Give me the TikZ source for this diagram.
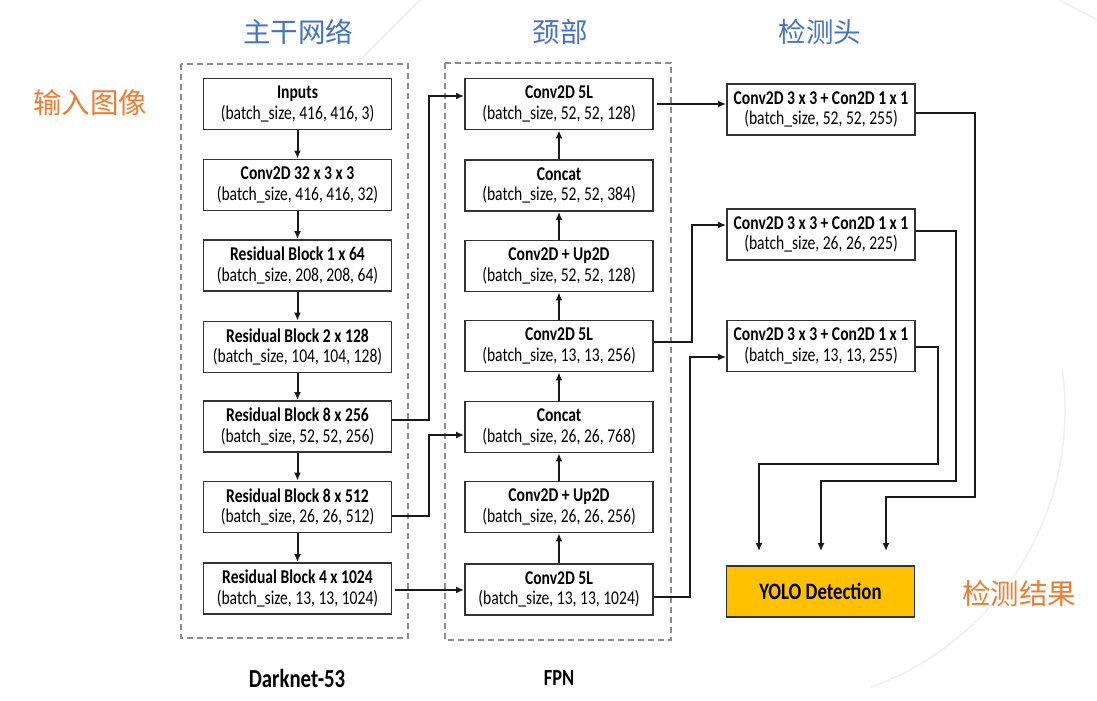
\documentclass[tikz,border=0pt]{standalone}
\usepackage{fontspec}
\setmainfont{Carlito}[FakeStretch=0.8]
\newfontfamily\cjk{Noto Sans CJK SC}
\usetikzlibrary{arrows.meta}
\definecolor{titleblue}{RGB}{68,114,200}
\definecolor{titleorange}{RGB}{237,125,49}
\definecolor{yologold}{RGB}{255,192,0}
\begin{document}
\begin{tikzpicture}[x=1pt,y=-1pt,
  blk/.style={draw=black!80, line width=1.8pt, minimum width=188pt, minimum height=51pt,
    align=center, inner sep=0pt, fill=white, font=\fontsize{19.5}{20.5}\selectfont},
  arr/.style={-{Latex[length=8pt,width=7pt]}, line width=2pt, draw=black!90},
  dbox/.style={draw=black!45, line width=1.4pt, dash pattern=on 6pt off 4pt},
  cjktitle/.style={font=\cjk\fontsize{27.5}{30}\selectfont, text=titleblue, inner sep=0pt},
  cjkside/.style={font=\cjk\fontsize{28.5}{30}\selectfont, text=titleorange, inner sep=0pt},
  deco/.style={draw=black!6, line width=1.5pt}
]
\useasboundingbox (0,0) rectangle (1097,701);
% faint background decorations
\draw[deco] (770,410) ++(-8:295) arc[start angle=-8, end angle=70, radius=295];
\draw[deco] (420,0) -- (358,62);
\draw[deco] (1060,0) -- (1097,20);

% titles
\node[cjktitle] (tbb) at (298,32) {主干网络};
\node[cjktitle] (tneck) at (560,32) {颈部};
\node[cjktitle] (thead) at (820,32) {检测头};
\node[cjkside] (tin) at (90,103) {输入图像};
\node[cjkside] (tout) at (1019,594) {检测结果};

% dashed group boxes
\draw[dbox] (181,64) rectangle (408,638);
\draw[dbox] (445,63) rectangle (671,640);
\node[font=\bfseries\fontsize{26}{28}\selectfont] (dk) at (297,678) {Darknet-53};
\node[font=\bfseries\fontsize{23}{26}\selectfont] (fpn) at (559,678) {FPN};

% backbone
\node[blk] (l1) at (297.5,104) {\textbf{Inputs}\\(batch\_size, 416, 416, 3)};
\node[blk] (l2) at (297.5,185) {\textbf{Conv2D 32 x 3 x 3}\\(batch\_size, 416, 416, 32)};
\node[blk] (l3) at (297.5,265.5) {\textbf{Residual Block 1 x 64}\\(batch\_size, 208, 208, 64)};
\node[blk] (l4) at (297.5,347) {\textbf{Residual Block 2 x 128}\\(batch\_size, 104, 104, 128)};
\node[blk] (l5) at (297.5,426.5) {\textbf{Residual Block 8 x 256}\\(batch\_size, 52, 52, 256)};
\node[blk] (l6) at (297.5,507) {\textbf{Residual Block 8 x 512}\\(batch\_size, 26, 26, 512)};
\node[blk] (l7) at (297.5,588.5) {\textbf{Residual Block 4 x 1024}\\(batch\_size, 13, 13, 1024)};

% neck
\node[blk] (m1) at (559,104) {\textbf{Conv2D 5L}\\(batch\_size, 52, 52, 128)};
\node[blk] (m2) at (559,185.5) {\textbf{Concat}\\(batch\_size, 52, 52, 384)};
\node[blk] (m3) at (559,266) {\textbf{Conv2D + Up2D}\\(batch\_size, 52, 52, 128)};
\node[blk] (m4) at (559,346) {\textbf{Conv2D 5L}\\(batch\_size, 13, 13, 256)};
\node[blk] (m5) at (559,427) {\textbf{Concat}\\(batch\_size, 26, 26, 768)};
\node[blk] (m6) at (559,507) {\textbf{Conv2D + Up2D}\\(batch\_size, 26, 26, 256)};
\node[blk] (m7) at (559,589.5) {\textbf{Conv2D 5L}\\(batch\_size, 13, 13, 1024)};

% head
\node[blk] (r1) at (821,109.5) {\textbf{Conv2D 3 x 3 + Con2D 1 x 1}\\(batch\_size, 52, 52, 255)};
\node[blk] (r2) at (821,234.5) {\textbf{Conv2D 3 x 3 + Con2D 1 x 1}\\(batch\_size, 26, 26, 225)};
\node[blk] (r3) at (821,346) {\textbf{Conv2D 3 x 3 + Con2D 1 x 1}\\(batch\_size, 13, 13, 255)};
\node[blk, fill=yologold, font=\bfseries\fontsize{23.5}{26}\selectfont] (yolo) at (820.5,591.5) {YOLO Detection};

% arrow targets above YOLO box
\coordinate (t1) at ([xshift=65.5pt,yshift=14pt]yolo.north);
\coordinate (t2) at ([xshift=0.5pt,yshift=14pt]yolo.north);
\coordinate (t3) at ([xshift=-61.5pt,yshift=14pt]yolo.north);

% backbone chain
\foreach \a/\b in {l1/l2,l2/l3,l3/l4,l4/l5,l5/l6,l6/l7}
  \draw[arr] (\a) -- (\b);
% neck chain (upwards)
\foreach \a/\b in {m7/m6,m6/m5,m5/m4,m4/m3,m3/m2,m2/m1}
  \draw[arr] (\a) -- (\b);

% backbone -> neck
\draw[arr] ([yshift=6.5pt]l5.east) -- ++(37,0) |- ([yshift=8pt]m1.west);
\draw[arr] ([yshift=-9pt]l6.east) -- ++(37,0) |- ([yshift=-8pt]m5.west);
\draw[arr] ([xshift=3pt,yshift=-1.5pt]l7.east) -- ([yshift=-1.5pt]l7.east -| m7.west);

% neck -> head
\draw[arr] ([xshift=3pt]m1.east) -- (m1.east -| r1.west);
\draw[arr] ([yshift=4pt]m4.east) -- ++(38,0) |- ([yshift=9.5pt]r2.west);
\draw[arr] ([yshift=-7.5pt]m7.east) -- ++(36,0) |- ([yshift=-11pt]r3.west);

% head -> detection
\draw[arr] ([yshift=-3.5pt]r1.east) -- ++(59,0) -- ++(0,383.5) -| (t1);
\draw[arr] ([yshift=3.5pt]r2.east) -- ++(40,0) -- ++(0,250) -| (t2);
\draw[arr] ([yshift=-1pt]r3.east) -- ++(22,0) -- ++(0,117) -| (t3);
\end{tikzpicture}
\end{document}
